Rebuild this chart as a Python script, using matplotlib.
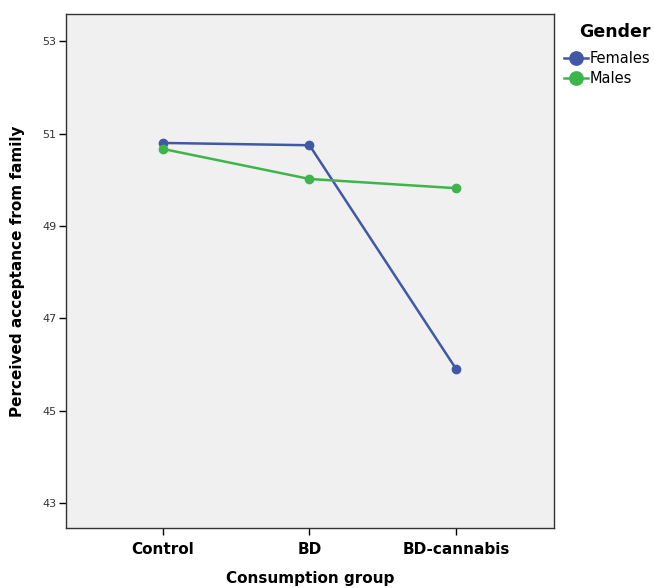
import matplotlib.pyplot as plt

groups = ["Control", "BD", "BD-cannabis"]
females = [50.80, 50.75, 45.91]
males = [50.67, 50.02, 49.82]
yticks = [43, 45, 47, 49, 51, 53]

fig = plt.figure(figsize=(6.54, 5.88), dpi=100)
ax = fig.add_axes([0.101, 0.102, 0.746, 0.874])
ax.set_facecolor("#f0f0f0")

x = list(range(len(groups)))
l1, = ax.plot(x, females, color="#4058a6", lw=1.8, marker="o", ms=6, label="Females")
l2, = ax.plot(x, males, color="#3db54a", lw=1.8, marker="o", ms=6, label="Males")

ax.set_xlim(-0.662, 2.669)
ax.set_ylim(42.46, 53.59)
ax.set_xticks(x)
ax.set_xticklabels(groups, fontsize=11, fontweight="bold")
ax.set_yticks(yticks)
ax.set_yticklabels([str(t) for t in yticks], fontsize=8, color="#333333")
ax.tick_params(axis="x", length=5, width=1, pad=5)
ax.tick_params(axis="y", length=5, width=1, pad=2)
for s in ax.spines.values():
    s.set_linewidth(1.0)
    s.set_color("#333333")

ax.set_xlabel("Consumption group", fontsize=11, fontweight="bold", labelpad=10)
ax.set_ylabel("Perceived acceptance from family", fontsize=11, fontweight="bold", labelpad=12)

leg = fig.legend(handles=[l1, l2], title="Gender", loc="upper left",
                 bbox_to_anchor=(0.853, 0.97), frameon=False, fontsize=10.5,
                 handlelength=1.7, handletextpad=0.1, labelspacing=0.35,
                 markerscale=1.6, borderaxespad=0)
leg.get_title().set_fontweight("bold")
leg.get_title().set_fontsize(12.5)
leg._legend_box.align = "right"
leg._legend_box.sep = 7

fig.savefig("out.png", dpi=100)
